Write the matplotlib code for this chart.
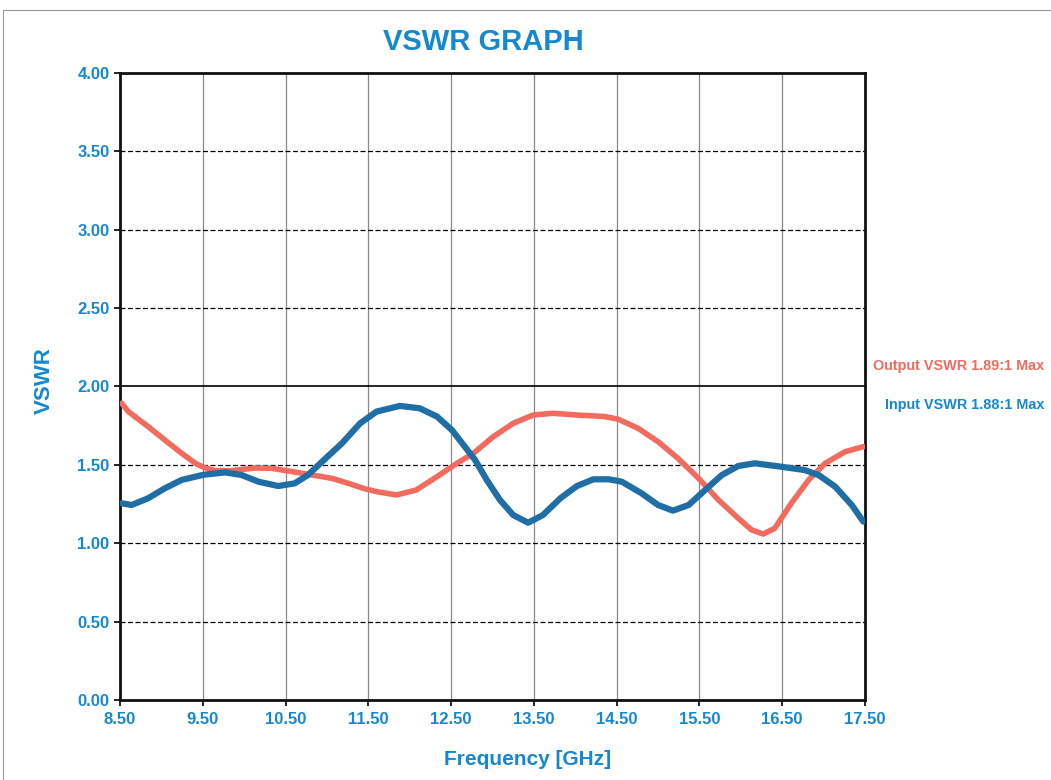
import matplotlib
matplotlib.use("Agg")
import matplotlib.pyplot as plt
from matplotlib.patches import Rectangle

# output VSWR (red)
out_freq = [8.52, 8.60, 8.84, 9.04, 9.245, 9.41, 9.51, 9.65, 9.85, 10.13, 10.33,
            10.51, 10.77, 11.06, 11.26, 11.44, 11.60, 11.84, 12.08, 12.33, 12.57,
            12.77, 13.01, 13.25, 13.49, 13.73, 14.02, 14.36, 14.52, 14.76, 15.00,
            15.24, 15.49, 15.73, 15.97, 16.13, 16.27, 16.41, 16.61, 16.82, 17.02,
            17.26, 17.48]
out_vswr = [1.893, 1.84, 1.744, 1.659, 1.574, 1.51, 1.484, 1.463, 1.463, 1.48, 1.478,
            1.463, 1.44, 1.414, 1.382, 1.35, 1.329, 1.308, 1.34, 1.425, 1.51,
            1.574, 1.68, 1.765, 1.818, 1.829, 1.818, 1.808, 1.791, 1.733, 1.648,
            1.542, 1.414, 1.276, 1.159, 1.085, 1.059, 1.095, 1.255, 1.404, 1.51,
            1.584, 1.616]

# input VSWR (blue)
in_freq = [8.52, 8.64, 8.84, 9.04, 9.245, 9.51, 9.77, 9.97, 10.17, 10.41, 10.61,
           10.77, 10.94, 11.18, 11.40, 11.60, 11.88, 12.12, 12.33, 12.51, 12.65,
           12.79, 12.93, 13.09, 13.25, 13.43, 13.61, 13.82, 14.02, 14.22, 14.40,
           14.56, 14.80, 15.00, 15.18, 15.37, 15.57, 15.77, 15.97, 16.17, 16.49,
           16.77, 16.94, 17.14, 17.34, 17.48]
in_vswr = [1.255, 1.244, 1.287, 1.35, 1.404, 1.437, 1.452, 1.435, 1.393, 1.365, 1.382,
           1.435, 1.52, 1.637, 1.765, 1.84, 1.876, 1.861, 1.808, 1.722, 1.627,
           1.531, 1.404, 1.276, 1.18, 1.131, 1.18, 1.287, 1.365, 1.408, 1.408,
           1.393, 1.319, 1.244, 1.208, 1.244, 1.34, 1.435, 1.493, 1.51, 1.488,
           1.467, 1.435, 1.361, 1.244, 1.138]

x_ticks = [8.5, 9.5, 10.5, 11.5, 12.5, 13.5, 14.5, 15.5, 16.5, 17.5]
y_ticks = [0, 0.5, 1.0, 1.5, 2.0, 2.5, 3.0, 3.5, 4.0]

txt_blue = "#1488d0"
line_blue = "#1f6ea6"
line_red = "#f36a5e"
plt.rcParams["font.family"] = ["Liberation Sans", "DejaVu Sans"]

fig = plt.figure(figsize=(10.51, 7.8), dpi=100)
ax = fig.add_axes([0.1142, 0.1026, 0.7088, 0.8038])

# page frame
fig.patches.append(Rectangle((0.003, -0.01), 1.1, 0.997, transform=fig.transFigure,
                             fill=False, edgecolor="#999999", linewidth=0.8))

for xv in x_ticks[1:-1]:
    ax.axvline(xv, color="#8a8a8a", linewidth=0.9, zorder=1)
for yv in y_ticks[1:-1]:
    if yv == 2.0:
        ax.axhline(yv, color="black", linewidth=1.2, zorder=1)
    else:
        ax.axhline(yv, color="black", linewidth=0.9, linestyle=(0, (4, 2)), zorder=1)

ax.plot(out_freq, out_vswr, color=line_red, linewidth=4, solid_capstyle="round",
        solid_joinstyle="round", zorder=3)
ax.plot(in_freq, in_vswr, color=line_blue, linewidth=4.5, solid_capstyle="round",
        solid_joinstyle="round", zorder=4)

ax.set_xlim(8.5, 17.5)
ax.set_ylim(0, 4)
ax.set_xticks(x_ticks)
ax.set_yticks(y_ticks)
ax.set_xticklabels([f"{v:.2f}" for v in x_ticks])
ax.set_yticklabels([f"{v:.2f}" for v in y_ticks])
ax.tick_params(axis="both", colors="black", labelcolor=txt_blue, labelsize=12,
               direction="out", length=4, width=1.2)
ax.tick_params(axis="x", pad=5)
for lab in ax.get_xticklabels() + ax.get_yticklabels():
    lab.set_fontweight("bold")
for sp in ax.spines.values():
    sp.set_linewidth(2)
    sp.set_color("#111111")

ax.set_xlabel("Frequency [GHz]", color=txt_blue, fontsize=15, fontweight="bold")
ax.xaxis.set_label_coords(0.547, -0.08)
ax.set_ylabel("VSWR", color=txt_blue, fontsize=16, fontweight="bold")
ax.yaxis.set_label_coords(-0.088, 0.51)
fig.text(0.46, 0.946, "VSWR GRAPH", color=txt_blue, fontsize=21, fontweight="bold",
         ha="center", va="center")

fig.text(0.831, 0.531, "Output VSWR 1.89:1 Max", color=line_red, fontsize=10.4,
         fontweight="bold", ha="left", va="center")
fig.text(0.842, 0.481, "Input VSWR 1.88:1 Max", color=txt_blue, fontsize=10.4,
         fontweight="bold", ha="left", va="center")

fig.savefig("out.png", dpi=100)
